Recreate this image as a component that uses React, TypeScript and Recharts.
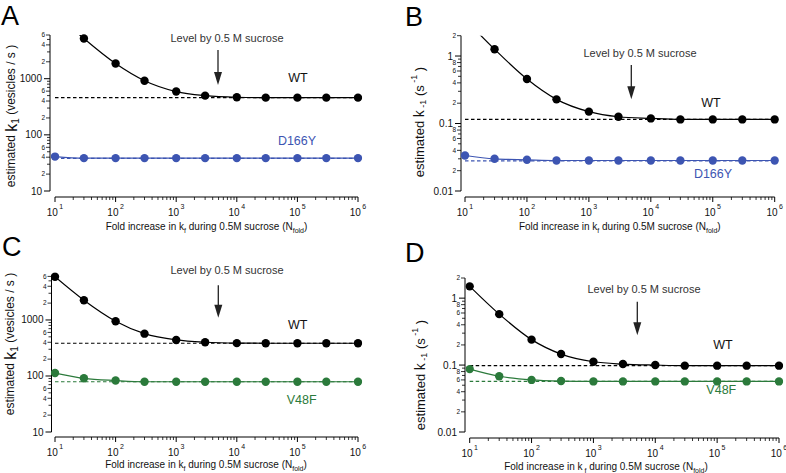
import React from 'react';
import { LineChart, Line, XAxis, YAxis, ReferenceLine } from 'recharts';

const FONT = '"Liberation Sans", Arial, Helvetica, sans-serif';

// ---- data ----
const foldX = [10, 30, 100, 300, 1000, 3000, 10000, 30000, 100000, 300000, 1000000];

const aWT = [15000, 5190, 1860, 920, 590, 500, 467, 460, 460, 460, 460];
const aD166Y = [41, 38.5, 38.5, 38.5, 38.5, 38.5, 38.5, 38.5, 38.5, 38.5, 38.5];
const aLevels = [460, 38];

const bWT = [3.5, 1.26, 0.456, 0.228, 0.15, 0.126, 0.119, 0.115, 0.115, 0.115, 0.115];
const bD166Y = [0.0336, 0.030, 0.029, 0.0283, 0.0283, 0.0283, 0.0283, 0.0283, 0.0283, 0.0283, 0.0283];
const bLevels = [0.115, 0.028];

const cWT = [5900, 2250, 950, 570, 440, 400, 386, 384, 384, 384, 384];
const cV48F = [113, 91, 83, 79, 79, 79, 79, 79, 79, 79, 79];
const cLevels = [384, 79];

const dWT = [1.5, 0.577, 0.24, 0.146, 0.112, 0.1035, 0.1, 0.098, 0.098, 0.098, 0.098];
const dV48F = [0.087, 0.068, 0.06, 0.0577, 0.057, 0.057, 0.057, 0.057, 0.057, 0.057, 0.057];
const dLevels = [0.098, 0.057];

const xMajorTicks = [10, 100, 1000, 10000, 100000, 1000000];
const xMajorExponents = ['1', '2', '3', '4', '5', '6'];

const k1Domain = [10, 6000];
const k1MajorTicks = [10, 100, 1000];
const k1MajorLabels = ['10', '100', '1000'];
const k1MinorLabelDigits = [2, 4, 6];

const km1Domain = [0.01, 2];
const km1MajorTicks = [0.01, 0.1, 1];
const km1MajorLabels = ['0.01', '0.1', '1'];
const km1MinorLabelDigits = [2, 4, 6, 8];

const panelLetters = ['A', 'B', 'C', 'D'];

const BLUE = '#3d55b2';
const GREEN = '#2b7a3b';

// log-axis tick positions (1..9 x 10^n) within a domain
function logTicks(min: number, max: number): number[] {
  const out: number[] = [];
  const e0 = Math.floor(Math.log10(min) + 1e-9);
  const e1 = Math.ceil(Math.log10(max) - 1e-9);
  for (let e = e0; e <= e1; e++) {
    for (let m = 1; m <= 9; m++) {
      const v = Number((m * Math.pow(10, e)).toPrecision(6));
      if (v >= min * (1 - 1e-9) && v <= max * (1 + 1e-9)) out.push(v);
    }
  }
  return out;
}

const xTicks = logTicks(10, 1000000);

const makeYTick = (majors: number[], labels: string[], minorDigits: number[]) => (props: any) => {
  const { x, y, payload } = props;
  const v = payload.value;
  const idx = majors.findIndex((m) => Math.abs(m - v) / m < 1e-6);
  if (idx >= 0) {
    return (
      <g>
        <line x1={x - 6} x2={x} y1={y} y2={y} stroke="#000" strokeWidth={1} />
        <text x={x - 8} y={y} dy="0.35em" textAnchor="end" fontSize={10} fontFamily={FONT} fill="#111">
          {labels[idx]}
        </text>
      </g>
    );
  }
  const e = Math.floor(Math.log10(v) + 1e-9);
  const d = Math.round(v / Math.pow(10, e));
  const labeled = minorDigits.includes(d);
  return (
    <g>
      <line x1={x - (labeled ? 4 : 3)} x2={x} y1={y} y2={y} stroke="#000" strokeWidth={0.8} />
      {labeled && (
        <text x={x - 5} y={y} dy="0.35em" textAnchor="end" fontSize={6.5} fontFamily={FONT} fill="#111">
          {d}
        </text>
      )}
    </g>
  );
};

const XTick = (props: any) => {
  const { x, y, payload } = props;
  const v = payload.value;
  const idx = xMajorTicks.findIndex((m) => Math.abs(m - v) / m < 1e-6);
  if (idx >= 0) {
    return (
      <g>
        <line x1={x} x2={x} y1={y} y2={y + 5} stroke="#000" strokeWidth={1} />
        <text x={x} y={y + 19} textAnchor="middle" fontSize={10} fontFamily={FONT} fill="#111">
          10
          <tspan dx={1.5} dy={-7} fontSize={7}>{xMajorExponents[idx]}</tspan>
        </text>
      </g>
    );
  }
  return <line x1={x} x2={x} y1={y} y2={y + 3} stroke="#000" strokeWidth={0.8} />;
};

type PanelProps = {
  letter: string;
  left: number;
  top: number;
  W: number;
  H: number;
  plotTop: number;
  plotRight: number;
  yAxisLineX: number;
  plotLeft: number;
  plotBottom: number;
  xAxisY: number;
  yDomain: number[];
  yMajors: number[];
  yMajorLabels: string[];
  yMinorDigits: number[];
  wt: number[];
  mut: number[];
  levels: number[];
  mutName: string;
  mutColor: string;
  kind: 'k1' | 'km1';
  levelPos: number[];
  arrow: number[];
  wtPos: number[];
  mutPos: number[];
  yTitlePos: number[];
  xTitlePos: number[];
};

const Panel = (p: PanelProps) => {
  const data = foldX.map((x, i) => ({ x, wt: p.wt[i], mut: p.mut[i] }));
  const yTicks = logTicks(p.yDomain[0], p.yDomain[1]);
  const YTick = makeYTick(p.yMajors, p.yMajorLabels, p.yMinorDigits);
  const [ax, ay1, ay2] = p.arrow;
  return (
    <div style={{ position: 'absolute', left: p.left, top: p.top, width: p.W, height: p.H }}>
      <LineChart
        width={p.W}
        height={p.H}
        data={data}
        margin={{ top: p.plotTop, right: p.W - p.plotRight, left: 0, bottom: 0 }}
      >
        <XAxis
          xAxisId="d"
          dataKey="x"
          type="number"
          scale="log"
          domain={[10, 1000000]}
          allowDataOverflow
          height={p.xAxisY - p.plotBottom}
          axisLine={false}
          tickLine={false}
          tick={false}
        />
        <XAxis
          xAxisId="v"
          dataKey="x"
          type="number"
          scale="log"
          domain={[10, 1000000]}
          allowDataOverflow
          ticks={xTicks}
          interval={0}
          height={p.H - p.xAxisY}
          axisLine={{ stroke: '#000', strokeWidth: 1 }}
          tickLine={false}
          tickSize={0}
          tickMargin={0}
          tick={<XTick />}
        />
        <YAxis
          yAxisId="d"
          type="number"
          scale="log"
          domain={p.yDomain}
          allowDataOverflow
          width={p.plotLeft - p.yAxisLineX}
          axisLine={false}
          tickLine={false}
          tick={false}
        />
        <YAxis
          yAxisId="v"
          type="number"
          scale="log"
          domain={p.yDomain}
          allowDataOverflow
          ticks={yTicks}
          interval={0}
          width={p.yAxisLineX}
          axisLine={{ stroke: '#000', strokeWidth: 1 }}
          tickLine={false}
          tickSize={0}
          tickMargin={0}
          tick={<YTick />}
        />
        <ReferenceLine xAxisId="d" yAxisId="d" y={p.levels[0]} stroke="#000" strokeWidth={1.2} strokeDasharray="3.5 2.5" />
        <ReferenceLine xAxisId="d" yAxisId="d" y={p.levels[1]} stroke={p.mutColor} strokeWidth={1.2} strokeDasharray="3.5 2.5" />
        <Line
          xAxisId="d"
          yAxisId="d"
          dataKey="wt"
          type="monotone"
          stroke="#000"
          strokeWidth={1.2}
          dot={{ r: 4.2, fill: '#000', stroke: '#000', strokeWidth: 0, clipDot: false } as any}
          isAnimationActive={false}
        />
        <Line
          xAxisId="d"
          yAxisId="d"
          dataKey="mut"
          type="monotone"
          stroke={p.mutColor}
          strokeWidth={1.2}
          dot={{ r: 4.2, fill: p.mutColor, stroke: p.mutColor, strokeWidth: 0, clipDot: false } as any}
          isAnimationActive={false}
        />
        <g fontFamily={FONT}>
          <text x={p.levelPos[0]} y={p.levelPos[1]} fontSize={11} fill="#333" textAnchor="middle">
            Level by 0.5 M sucrose
          </text>
          <line x1={ax} x2={ax} y1={ay1} y2={ay2 - 10} stroke="#222" strokeWidth={1.3} />
          <polygon points={`${ax - 4},${ay2 - 13} ${ax + 4},${ay2 - 13} ${ax},${ay2}`} fill="#222" />
          <text x={p.wtPos[0]} y={p.wtPos[1]} fontSize={12.5} fill="#111" textAnchor="middle">WT</text>
          <text x={p.mutPos[0]} y={p.mutPos[1]} fontSize={12.5} fill={p.mutColor} textAnchor="middle">
            {p.mutName}
          </text>
          {p.kind === 'k1' ? (
            <text
              transform={`translate(${p.yTitlePos[0]},${p.yTitlePos[1]}) rotate(-90)`}
              textAnchor="middle"
              dominantBaseline="central"
              fontSize={12}
              fill="#111"
            >
              estimated <tspan fontSize={16}>k</tspan>
              <tspan fontSize={10} dy={4}>1</tspan>
              <tspan dy={-4}> (vesicles / s )</tspan>
            </text>
          ) : (
            <text
              transform={`translate(${p.yTitlePos[0]},${p.yTitlePos[1]}) rotate(-90)`}
              textAnchor="middle"
              dominantBaseline="central"
              fontSize={13}
              fill="#111"
            >
              estimated  <tspan fontSize={14}>k</tspan>
              <tspan fontSize={9} dy={4}> -1</tspan>
              <tspan dy={-4}>  (s</tspan>
              <tspan fontSize={9} dy={-5}> -1</tspan>
              <tspan dy={5}> )</tspan>
            </text>
          )}
          <text x={p.xTitlePos[0]} y={p.xTitlePos[1]} textAnchor="middle" fontSize={10} fill="#111">
            Fold increase in k
            <tspan fontSize={7} dy={2.5}>{p.letter === 'D' ? ' f' : 'f'}</tspan>
            <tspan dy={-2.5}> during 0.5M sucrose (N</tspan>
            <tspan fontSize={7} dy={2.5}>fold</tspan>
            <tspan dy={-2.5}>)</tspan>
          </text>
        </g>
      </LineChart>
    </div>
  );
};

const letterPositions = [
  [1, 25],
  [405, 26],
  [2, 256],
  [405, 262],
];

export default function App() {
  return (
    <div style={{ position: 'absolute', left: 0, top: 0, width: 786, height: 473, background: '#fff', overflow: 'hidden' }}>
      <svg width={786} height={473} style={{ position: 'absolute', left: 0, top: 0 }}>
        {panelLetters.map((l, i) => (
          <text key={l} x={letterPositions[i][0]} y={letterPositions[i][1]} fontSize={27} fontFamily={FONT} fill="#000">
            {l}
          </text>
        ))}
      </svg>
      <Panel
        letter="A" left={0} top={0} W={393} H={236}
        plotTop={35} plotRight={358} yAxisLineX={50} plotLeft={55} plotBottom={191} xAxisY={197}
        yDomain={k1Domain} yMajors={k1MajorTicks} yMajorLabels={k1MajorLabels} yMinorDigits={k1MinorLabelDigits}
        wt={aWT} mut={aD166Y} levels={aLevels} mutName="D166Y" mutColor={BLUE} kind="k1"
        levelPos={[227, 42]} arrow={[218, 50, 85]}
        wtPos={[298, 81.5]} mutPos={[297, 144.5]} yTitlePos={[11, 116]} xTitlePos={[206.5, 230]}
      />
      <Panel
        letter="B" left={393} top={0} W={393} H={236}
        plotTop={35.7} plotRight={381.7} yAxisLineX={68} plotLeft={72} plotBottom={191} xAxisY={197}
        yDomain={km1Domain} yMajors={km1MajorTicks} yMajorLabels={km1MajorLabels} yMinorDigits={km1MinorLabelDigits}
        wt={bWT} mut={bD166Y} levels={bLevels} mutName="D166Y" mutColor={BLUE} kind="km1"
        levelPos={[247, 56.5]} arrow={[238.3, 65, 99.3]}
        wtPos={[318, 107]} mutPos={[320, 177.5]} yTitlePos={[26, 122]} xTitlePos={[226.8, 230]}
      />
      <Panel
        letter="C" left={0} top={236} W={393} H={237}
        plotTop={40.4} plotRight={358} yAxisLineX={51.5} plotLeft={55} plotBottom={196} xAxisY={201}
        yDomain={k1Domain} yMajors={k1MajorTicks} yMajorLabels={k1MajorLabels} yMinorDigits={k1MinorLabelDigits}
        wt={cWT} mut={cV48F} levels={cLevels} mutName="V48F" mutColor={GREEN} kind="k1"
        levelPos={[227, 38]} arrow={[218.3, 49.3, 81.7]}
        wtPos={[297.7, 92.5]} mutPos={[301.7, 167.5]} yTitlePos={[10, 108]} xTitlePos={[206, 232]}
      />
      <Panel
        letter="D" left={393} top={236} W={393} H={237}
        plotTop={42} plotRight={386} yAxisLineX={72} plotLeft={76.7} plotBottom={196} xAxisY={202}
        yDomain={km1Domain} yMajors={km1MajorTicks} yMajorLabels={km1MajorLabels} yMinorDigits={km1MinorLabelDigits}
        wt={dWT} mut={dV48F} levels={dLevels} mutName="V48F" mutColor={GREEN} kind="km1"
        levelPos={[251, 57]} arrow={[244.3, 65.7, 99.3]}
        wtPos={[330, 112.5]} mutPos={[328.3, 157.5]} yTitlePos={[27, 139]} xTitlePos={[213, 234]}
      />
    </div>
  );
}
